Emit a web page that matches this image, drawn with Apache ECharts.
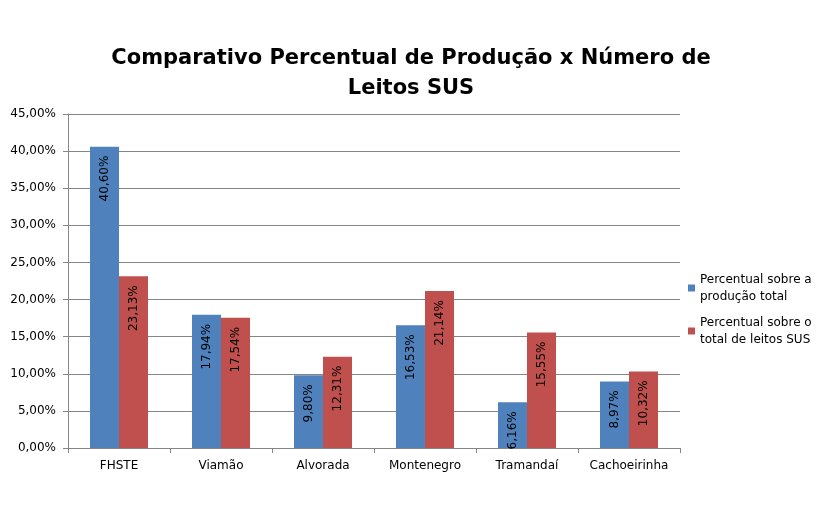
<!DOCTYPE html>
<html>
<head>
<meta charset="utf-8">
<script src="https://cdn.jsdelivr.net/npm/echarts@6/dist/echarts.min.js"></script>
<style>
  html, body { margin: 0; padding: 0; background: #fff; }
  #chart { width: 822px; height: 512px; }
</style>
</head>
<body>
<div id="chart"></div>
<script>
// dados
var cidades = ['FHSTE', 'Viamão', 'Alvorada', 'Montenegro', 'Tramandaí', 'Cachoeirinha'];
var producao = [40.60, 17.94, 9.80, 16.53, 6.16, 8.97];
var leitos = [23.13, 17.54, 12.31, 21.14, 15.55, 10.32];
var nomeProducao = 'Percentual sobre a\nprodução total';
var nomeLeitos = 'Percentual sobre o\ntotal de leitos SUS';

function pct(v) {
  return v.toFixed(2).replace('.', ',') + '%';
}

var chart = echarts.init(document.getElementById('chart'));

var rotulo = {
  show: true,
  position: 'insideTop',
  rotate: 90,
  align: 'right',
  verticalAlign: 'middle',
  distance: 9,
  color: '#000',
  fontFamily: 'DejaVu Sans',
  fontSize: 12,
  formatter: function (p) { return pct(p.value); }
};

var option = {
  animation: false,
  title: {
    text: 'Comparativo Percentual de Produção x Número de\nLeitos SUS',
    left: 'center',
    top: 39,
    textStyle: {
      fontFamily: 'DejaVu Sans',
      fontWeight: 'bold',
      fontSize: 21,
      lineHeight: 30,
      color: '#000'
    }
  },
  legend: {
    orient: 'vertical',
    left: 683,
    top: 266,
    itemWidth: 7,
    itemHeight: 7,
    itemGap: 9,
    icon: 'rect',
    textStyle: {
      fontFamily: 'DejaVu Sans',
      fontSize: 12,
      lineHeight: 17,
      color: '#000'
    },
    data: [nomeProducao, nomeLeitos]
  },
  grid: {
    left: 68,
    right: 142,
    top: 114,
    bottom: 64
  },
  xAxis: {
    type: 'category',
    data: cidades,
    axisLine: { lineStyle: { color: '#868686' } },
    axisTick: { show: true, length: 5, lineStyle: { color: '#868686' } },
    axisLabel: {
      interval: 0,
      color: '#000',
      fontFamily: 'DejaVu Sans',
      fontSize: 12,
      margin: 12
    }
  },
  yAxis: {
    type: 'value',
    min: 0,
    max: 45,
    interval: 5,
    axisLine: { show: true, lineStyle: { color: '#868686' } },
    axisTick: { show: true, length: 5, lineStyle: { color: '#868686' } },
    splitLine: { lineStyle: { color: '#868686' } },
    axisLabel: {
      color: '#000',
      fontFamily: 'DejaVu Sans',
      fontSize: 12,
      margin: 12,
      formatter: function (v) { return pct(v); }
    }
  },
  series: [
    {
      name: nomeProducao,
      type: 'bar',
      data: producao,
      barWidth: 29,
      barGap: '0%',
      itemStyle: { color: '#4F81BD' },
      label: rotulo
    },
    {
      name: nomeLeitos,
      type: 'bar',
      data: leitos,
      barWidth: 29,
      barGap: '0%',
      itemStyle: { color: '#C0504D' },
      label: rotulo
    }
  ]
};

chart.setOption(option);
</script>
</body>
</html>
